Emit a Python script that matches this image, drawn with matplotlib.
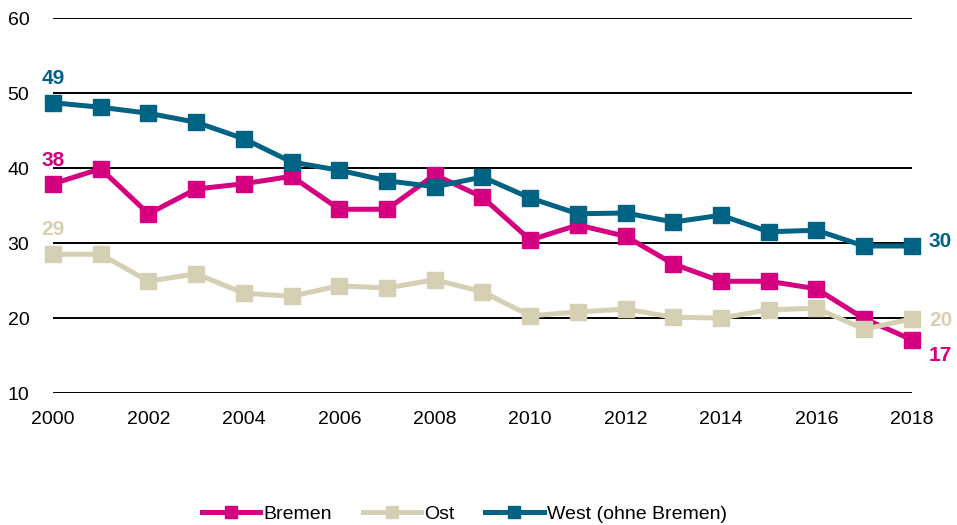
import matplotlib.pyplot as plt

plt.rcParams['font.family'] = ['Liberation Sans', 'DejaVu Sans']

years = list(range(2000, 2019))
bremen = [37.9, 39.9, 33.9, 37.2, 37.9, 38.9, 34.5, 34.5, 39.1, 36.1,
          30.4, 32.4, 30.9, 27.2, 24.9, 24.9, 23.9, 19.9, 17.1]
ost = [28.5, 28.5, 24.9, 25.9, 23.3, 22.9, 24.3, 24.0, 25.1, 23.5,
       20.3, 20.8, 21.2, 20.1, 20.0, 21.1, 21.3, 18.5, 19.9]
west = [48.7, 48.1, 47.3, 46.1, 43.9, 40.8, 39.7, 38.3, 37.5, 38.8,
        36.0, 33.9, 34.0, 32.8, 33.7, 31.5, 31.7, 29.6, 29.6]

start_labels = ['38', '29', '49']
end_labels = ['17', '20', '30']

names = ['Bremen', 'Ost', 'West (ohne Bremen)']
colors = ['#D5007F', '#D5D0B3', '#006384']
series = [bremen, ost, west]

fig = plt.figure(figsize=(9.57, 5.25), dpi=100)
ax = fig.add_axes([0.0554, 0.2514, 0.8975, 0.7143])

# gridlines
for y in range(10, 61, 10):
    ax.axhline(y, color='black', lw=1.4, zorder=1)

for vals, name, c in zip(series, names, colors):
    ax.plot(years, vals, color=c, lw=3.6, marker='s', markersize=11,
            label=name, zorder=3, clip_on=False)

# value labels at start and end
ax.text(2000, 51.9, start_labels[2], color=colors[2], fontsize=15, fontweight='bold', ha='center', va='center')
ax.text(2000, 41.0, start_labels[0], color=colors[0], fontsize=15, fontweight='bold', ha='center', va='center')
ax.text(2000, 31.8, start_labels[1], color=colors[1], fontsize=15, fontweight='bold', ha='center', va='center')
ax.text(2018.6, 30.2, end_labels[2], color=colors[2], fontsize=15, fontweight='bold', ha='center', va='center')
ax.text(2018.6, 19.7, end_labels[1], color=colors[1], fontsize=15, fontweight='bold', ha='center', va='center')
ax.text(2018.6, 15.0, end_labels[0], color=colors[0], fontsize=15, fontweight='bold', ha='center', va='center')

ax.set_xlim(2000, 2018)
ax.set_ylim(10, 60)
ax.set_xticks(range(2000, 2019, 2))
ax.set_yticks(range(10, 61, 10))
ax.tick_params(axis='both', length=0, labelsize=14)
ax.tick_params(axis='x', pad=13)
ax.tick_params(axis='y', pad=17)
for s in ax.spines.values():
    s.set_visible(False)

leg = fig.legend(loc='lower center', bbox_to_anchor=(0.485, -0.03), ncol=3, frameon=False,
                 fontsize=14, handlelength=3.0, columnspacing=1.6, handletextpad=0.15,
                 markerscale=0.75)

fig.savefig('out.png', dpi=100)
